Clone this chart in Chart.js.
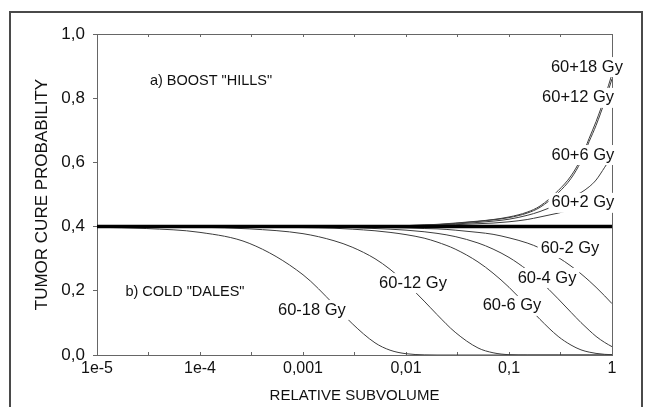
<!DOCTYPE html>
<html>
<head>
<meta charset="utf-8">
<script src="https://cdn.jsdelivr.net/npm/chart.js@4/dist/chart.umd.min.js"></script>
<style>
  html, body { margin: 0; padding: 0; background: #fff; }
  #wrap { position: relative; width: 645px; height: 407px; }
  #frame { position: absolute; left: 9px; top: 11px; width: 630px; height: 400px;
           border: 2px solid #4a4a4a; border-bottom: none; pointer-events: none; }
</style>
</head>
<body>
<div id="wrap">
  <canvas id="chart" width="645" height="407"></canvas>
  <div id="frame"></div>
</div>
<script>
// relative subvolume grid shared by all curves
const subvolume = [1e-5, 3e-5, 1e-4, 3e-4, 1e-3, 2e-3, 3e-3, 5e-3, 7e-3, 0.01, 0.015, 0.02, 0.03,
  0.05, 0.07, 0.1, 0.15, 0.2, 0.3, 0.4, 0.5, 0.6, 0.7, 0.85, 1];

// boost "hills"
const boost18 = [0.400, 0.400, 0.400, 0.400, 0.400, 0.400, 0.400, 0.401, 0.402, 0.403, 0.405, 0.407, 0.411,
  0.417, 0.422, 0.430, 0.445, 0.464, 0.512, 0.558, 0.612, 0.675, 0.727, 0.803, 0.875];
const boost12 = [0.400, 0.400, 0.400, 0.400, 0.400, 0.400, 0.400, 0.401, 0.402, 0.403, 0.405, 0.406, 0.410,
  0.416, 0.421, 0.428, 0.442, 0.460, 0.505, 0.550, 0.603, 0.665, 0.715, 0.790, 0.860];
const boost6 = [0.400, 0.400, 0.400, 0.400, 0.400, 0.400, 0.400, 0.401, 0.402, 0.402, 0.404, 0.405, 0.408,
  0.413, 0.417, 0.423, 0.435, 0.447, 0.470, 0.490, 0.506, 0.524, 0.545, 0.585, 0.620];
const boost2 = [0.400, 0.400, 0.400, 0.400, 0.400, 0.400, 0.400, 0.401, 0.401, 0.402, 0.403, 0.404, 0.406,
  0.409, 0.411, 0.415, 0.422, 0.430, 0.442, 0.452, 0.461, 0.470, 0.478, 0.490, 0.500];

// cold "dales"
const cold2 = [0.400, 0.400, 0.400, 0.400, 0.400, 0.399, 0.399, 0.398, 0.397, 0.396, 0.394, 0.393, 0.389,
  0.382, 0.376, 0.365, 0.349, 0.333, 0.304, 0.277, 0.253, 0.231, 0.211, 0.184, 0.160];
const cold4 = [0.400, 0.400, 0.400, 0.400, 0.399, 0.398, 0.397, 0.394, 0.392, 0.389, 0.384, 0.379, 0.369,
  0.349, 0.330, 0.304, 0.265, 0.231, 0.175, 0.133, 0.101, 0.077, 0.058, 0.039, 0.026];
const cold6 = [0.400, 0.400, 0.400, 0.399, 0.397, 0.395, 0.392, 0.387, 0.382, 0.375, 0.364, 0.352, 0.330,
  0.290, 0.255, 0.211, 0.153, 0.111, 0.058, 0.031, 0.016, 0.009, 0.005, 0.002, 0.001];
const cold12 = [0.400, 0.400, 0.398, 0.393, 0.378, 0.356, 0.336, 0.300, 0.267, 0.224, 0.168, 0.126, 0.071,
  0.022, 0.007, 0.001, 0, 0, 0, 0, 0, 0, 0, 0, 0];
const cold18 = [0.398, 0.394, 0.382, 0.348, 0.250, 0.157, 0.098, 0.038, 0.015, 0.004, 0.0005, 0, 0,
  0, 0, 0, 0, 0, 0, 0, 0, 0, 0, 0, 0];

// reference 60 Gy level
const baseX = [1e-5, 1];
const baseY = [0.4, 0.4];

// axis ticks
const xMajorTicks = [1e-5, 1e-4, 1e-3, 0.01, 0.1, 1];
const xMajorLabels = ['1e-5', '1e-4', '0,001', '0,01', '0,1', '1'];
const xMinorTicks = [3.162e-5, 3.162e-4, 3.162e-3, 0.03162, 0.3162];

const FONT = '"Liberation Sans", Arial, sans-serif';
const xTicks = xMajorTicks.concat(xMinorTicks).sort((a, b) => a - b);

// curve labels, placed in data coordinates
const curveLabels = [
  { text: '60+18 Gy', x: 0.571, y: 0.897 },
  { text: '60+12 Gy', x: 0.468, y: 0.801 },
  { text: '60+6 Gy', x: 0.522, y: 0.623 },
  { text: '60+2 Gy', x: 0.522, y: 0.474 },
  { text: '60-2 Gy', x: 0.391, y: 0.333 },
  { text: '60-4 Gy', x: 0.234, y: 0.240 },
  { text: '60-6 Gy', x: 0.107, y: 0.153 },
  { text: '60-12 Gy', x: 0.0117, y: 0.224 },
  { text: '60-18 Gy', x: 0.00122, y: 0.140 }
];
const noteLabels = [
  { text: 'a) BOOST "HILLS"', x: 1.28e-4, y: 0.854 },
  { text: 'b) COLD "DALES"', x: 7.14e-5, y: 0.196 }
];

function pts(xs, ys) {
  return xs.map((x, i) => ({ x: x, y: ys[i] }));
}

function curve(label, ys) {
  return {
    label: label,
    data: pts(subvolume, ys),
    borderColor: '#3c3c3c',
    borderWidth: 1,
    pointRadius: 0,
    cubicInterpolationMode: 'monotone'
  };
}

const labelPlugin = {
  id: 'curveLabels',
  afterDraw(chart) {
    const ctx = chart.ctx;
    const xs = chart.scales.x, ys = chart.scales.y;
    ctx.save();
    ctx.textAlign = 'center';
    ctx.textBaseline = 'middle';
    ctx.font = '16.5px ' + FONT;
    curveLabels.forEach(l => {
      const px = xs.getPixelForValue(l.x), py = ys.getPixelForValue(l.y);
      const w = ctx.measureText(l.text).width;
      ctx.fillStyle = '#fff';
      ctx.fillRect(px - w / 2 - 3, py - 10, w + 6, 20);
      ctx.fillStyle = '#111';
      ctx.fillText(l.text, px, py);
    });
    ctx.font = '14.5px ' + FONT;
    noteLabels.forEach(l => {
      ctx.fillStyle = '#111';
      ctx.fillText(l.text, xs.getPixelForValue(l.x), ys.getPixelForValue(l.y));
    });
    ctx.restore();
  }
};

function setLogTicks(axis) {
  axis.ticks = xTicks.map(v => ({ value: v }));
}

new Chart(document.getElementById('chart'), {
  type: 'line',
  data: {
    datasets: [
      { label: '60 Gy', data: pts(baseX, baseY), borderColor: '#000', borderWidth: 3.5, pointRadius: 0 },
      curve('60+18 Gy', boost18),
      curve('60+12 Gy', boost12),
      curve('60+6 Gy', boost6),
      curve('60+2 Gy', boost2),
      curve('60-2 Gy', cold2),
      curve('60-4 Gy', cold4),
      curve('60-6 Gy', cold6),
      curve('60-12 Gy', cold12),
      curve('60-18 Gy', cold18)
    ]
  },
  options: {
    responsive: false,
    animation: false,
    devicePixelRatio: 1,
    layout: { padding: { left: 0, top: 34, right: 33, bottom: 0 } },
    plugins: { legend: { display: false }, tooltip: { enabled: false } },
    scales: {
      x: {
        type: 'logarithmic',
        position: 'bottom',
        min: 1e-5,
        max: 1,
        afterBuildTicks: setLogTicks,
        afterFit: s => { s.height = 52; },
        ticks: {
          autoSkip: false,
          maxRotation: 0,
          padding: 7,
          color: '#111',
          font: { family: FONT, size: 16 },
          callback: (value) => {
            const i = xMajorTicks.findIndex(m => Math.abs(Math.log10(m) - Math.log10(value)) < 1e-6);
            return i >= 0 ? xMajorLabels[i] : '';
          }
        },
        grid: { drawOnChartArea: false, tickLength: -3, color: '#666' },
        border: { color: '#666', width: 1 },
        title: {
          display: true,
          text: 'RELATIVE SUBVOLUME',
          color: '#111',
          font: { family: FONT, size: 15 },
          padding: { top: 0, bottom: 2 }
        }
      },
      x2: {
        type: 'logarithmic',
        position: 'top',
        min: 1e-5,
        max: 1,
        afterBuildTicks: setLogTicks,
        afterFit: s => { s.height = 0; },
        ticks: { display: false },
        grid: { drawOnChartArea: false, tickLength: -3, color: '#666' },
        border: { color: '#666', width: 1 }
      },
      y: {
        min: 0,
        max: 1,
        afterFit: s => { s.width = 97; },
        ticks: {
          stepSize: 0.2,
          padding: 8,
          color: '#111',
          font: { family: FONT, size: 17 },
          callback: v => v.toFixed(1).replace('.', ',')
        },
        grid: { drawOnChartArea: false, tickLength: 4, color: '#666' },
        border: { color: '#666', width: 1 },
        title: {
          display: true,
          text: 'TUMOR CURE PROBABILITY',
          color: '#111',
          font: { family: FONT, size: 17 },
          padding: { top: 32, bottom: 0 }
        }
      },
      y2: {
        position: 'right',
        min: 0,
        max: 1,
        afterFit: s => { s.width = 0; },
        ticks: { display: false },
        grid: { drawOnChartArea: false, drawTicks: false },
        border: { color: '#666', width: 1 }
      }
    }
  },
  plugins: [labelPlugin]
});
</script>
</body>
</html>
